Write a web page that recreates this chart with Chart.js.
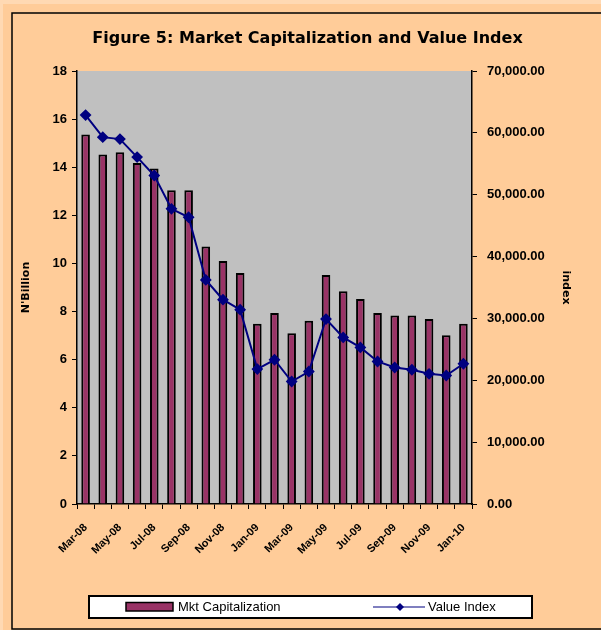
<!DOCTYPE html>
<html>
<head>
<meta charset="utf-8">
<script src="https://cdn.jsdelivr.net/npm/chart.js@4.4.1/dist/chart.umd.min.js"></script>
<style>
  html, body { margin: 0; padding: 0; background: #FFCC99; }
  #wrap { width: 601px; height: 630px; }
</style>
</head>
<body>
<div id="wrap"><canvas id="capChart" width="601" height="630"></canvas></div>
<script>
var months = ['Mar-08', 'Apr-08', 'May-08', 'Jun-08', 'Jul-08', 'Aug-08', 'Sep-08', 'Oct-08',
    'Nov-08', 'Dec-08', 'Jan-09', 'Feb-09', 'Mar-09', 'Apr-09', 'May-09', 'Jun-09', 'Jul-09',
    'Aug-09', 'Sep-09', 'Oct-09', 'Nov-09', 'Dec-09', 'Jan-10'];

// N'Billion
var mktCap = [15.36, 14.53, 14.62, 14.18, 13.95, 13.04, 13.04, 10.7, 10.1, 9.6, 7.49, 7.94,
    7.1, 7.62, 9.52, 8.84, 8.52, 7.94, 7.84, 7.84, 7.69, 7.02, 7.49];

// index
var valueIndex = [62880, 59310, 58990, 56080, 53110, 47720, 46360, 36220, 33030, 31410, 21810,
    23320, 19800, 21420, 29900, 26930, 25310, 23040, 22070, 21700, 21050, 20770, 22670];

var capTicks = [0, 2, 4, 6, 8, 10, 12, 14, 16, 18];
var indexTicks = [0, 10000, 20000, 30000, 40000, 50000, 60000, 70000];

var axisFont = { family: '"Liberation Sans", Arial, sans-serif', size: 13, weight: 'bold' };

// peach page, frame and grey plot area
var backdrop = {
    id: 'backdrop',
    beforeDraw: function (chart) {
        var ctx = chart.ctx, a = chart.chartArea;
        ctx.save();
        ctx.fillStyle = '#FFD9B3';
        ctx.fillRect(0, 0, chart.width, chart.height);
        ctx.fillStyle = '#FFCC99';
        ctx.fillRect(3, 4, chart.width - 3, chart.height - 4);
        ctx.strokeStyle = '#000';
        ctx.lineWidth = 1.5;
        ctx.beginPath();
        ctx.moveTo(chart.width, 13);
        ctx.lineTo(12, 13);
        ctx.lineTo(12, 629);
        ctx.lineTo(chart.width, 629);
        ctx.stroke();
        ctx.fillStyle = '#C0C0C0';
        ctx.fillRect(a.left, a.top, a.right - a.left, a.bottom - a.top);
        ctx.restore();
    }
};

// boxed legend like the excel one
var boxLegend = {
    id: 'boxLegend',
    afterDraw: function (chart) {
        var ctx = chart.ctx;
        var bar = chart.data.datasets[0], line = chart.data.datasets[1];
        ctx.save();
        ctx.fillStyle = '#fff';
        ctx.fillRect(89, 596, 443, 22);
        ctx.strokeStyle = '#000';
        ctx.lineWidth = 2;
        ctx.strokeRect(89, 596, 443, 22);

        ctx.fillStyle = bar.backgroundColor;
        ctx.fillRect(126, 602.5, 47, 8.5);
        ctx.lineWidth = 1.5;
        ctx.strokeRect(126, 602.5, 47, 8.5);

        ctx.strokeStyle = line.borderColor;
        ctx.lineWidth = 1.2;
        ctx.beginPath();
        ctx.moveTo(373, 607);
        ctx.lineTo(425, 607);
        ctx.stroke();
        ctx.fillStyle = line.pointBackgroundColor;
        ctx.beginPath();
        ctx.moveTo(400, 603);
        ctx.lineTo(404, 607);
        ctx.lineTo(400, 611);
        ctx.lineTo(396, 607);
        ctx.closePath();
        ctx.fill();

        ctx.fillStyle = '#000';
        ctx.font = '13px "Liberation Sans", Arial, sans-serif';
        ctx.textBaseline = 'middle';
        ctx.fillText(bar.label, 178, 607.5);
        ctx.fillText(line.label, 428, 607.5);
        ctx.restore();
    }
};

var capCtx = document.getElementById('capChart').getContext('2d');
var capChart = new Chart(capCtx, {
    type: 'bar',
    data: {
        labels: months,
        datasets: [{
            type: 'bar',
            label: 'Mkt Capitalization',
            data: mktCap,
            yAxisID: 'y',
            backgroundColor: '#993366',
            borderColor: '#000',
            borderWidth: 2,
            barPercentage: 0.5,
            categoryPercentage: 1,
            order: 1
        }, {
            type: 'line',
            label: 'Value Index',
            data: valueIndex,
            yAxisID: 'y1',
            borderColor: '#000080',
            borderWidth: 2,
            pointStyle: 'rectRot',
            pointRadius: 4.5,
            pointBackgroundColor: '#000080',
            pointBorderColor: '#000080',
            tension: 0,
            order: 0
        }]
    },
    options: {
        responsive: false,
        animation: false,
        devicePixelRatio: 1,
        layout: { padding: { left: 14, right: 0, top: 14, bottom: 66 } },
        plugins: {
            legend: { display: false },
            tooltip: { enabled: false },
            title: {
                display: true,
                text: 'Figure 5: Market Capitalization and Value Index',
                color: '#000',
                font: { family: '"DejaVu Sans", sans-serif', size: 16, weight: 'bold' },
                padding: { top: 15, bottom: 22.8 }
            }
        },
        scales: {
            x: {
                grid: { drawOnChartArea: false, tickLength: 5, color: '#000' },
                border: { color: '#000', width: 1.5 },
                ticks: {
                    color: '#000',
                    font: { family: '"Liberation Sans", Arial, sans-serif', size: 11, weight: 'bold' },
                    autoSkip: false,
                    minRotation: 45,
                    maxRotation: 45,
                    padding: 12,
                    callback: function (v, i) {
                        return i % 2 === 0 ? this.getLabelForValue(v) : '';
                    }
                },
                afterFit: function (s) { s.height = 60; }
            },
            y: {
                position: 'left',
                min: 0,
                max: 18,
                grid: { drawOnChartArea: false, tickLength: 5, color: '#000' },
                border: { color: '#000', width: 1.5 },
                ticks: { color: '#000', font: axisFont, padding: 5 },
                afterBuildTicks: function (s) {
                    s.ticks = capTicks.map(function (v) { return { value: v }; });
                },
                title: {
                    display: true,
                    text: "N'Billion",
                    color: '#000',
                    font: { family: '"DejaVu Sans", sans-serif', size: 11, weight: 'bold' },
                    padding: { top: 6 }
                },
                afterFit: function (s) { s.width = 63; }
            },
            y1: {
                position: 'right',
                min: 0,
                max: 70000,
                grid: { drawOnChartArea: false, tickLength: 5, color: '#000' },
                border: { color: '#000', width: 1.5 },
                ticks: {
                    color: '#000',
                    font: axisFont,
                    padding: 10,
                    callback: function (v) {
                        return v.toLocaleString('en-US', { minimumFractionDigits: 2, maximumFractionDigits: 2 });
                    }
                },
                afterBuildTicks: function (s) {
                    s.ticks = indexTicks.map(function (v) { return { value: v }; });
                },
                title: {
                    display: true,
                    text: 'index',
                    color: '#000',
                    font: { family: '"DejaVu Sans", sans-serif', size: 11, weight: 'bold' },
                    padding: { top: 29 }
                },
                afterFit: function (s) { s.width = 129; }
            }
        }
    },
    plugins: [backdrop, boxLegend]
});
</script>
</body>
</html>
